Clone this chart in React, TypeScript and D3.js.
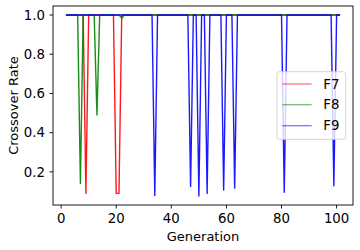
import React from "react";
import * as d3 from "d3";

// Generations 2..101
const generations: number[] = d3.range(2, 102);

const seriesNames = ["F7", "F8", "F9"];
const seriesColors = ["#ff0000", "#008000", "#0000ff"];

const f7: number[] = [
  1, 1, 1, 1, 1, 1, 1, 0.09, 1, 1,
  1, 1, 1, 1, 1, 1, 1, 1, 0.09, 0.09,
  1, 1, 1, 1, 1, 1, 1, 1, 1, 1,
  1, 1, 1, 1, 1, 1, 1, 1, 1, 1,
  1, 1, 1, 1, 1, 1, 1, 1, 1, 1,
  1, 1, 1, 1, 1, 1, 1, 1, 1, 1,
  1, 1, 1, 1, 1, 1, 1, 1, 1, 1,
  1, 1, 1, 1, 1, 1, 1, 1, 1, 1,
  1, 1, 1, 1, 1, 1, 1, 1, 1, 1,
  1, 1, 1, 1, 1, 1, 1, 1, 1, 1,
];

const f8: number[] = [
  1, 1, 1, 1, 1, 0.14, 1, 1, 1, 1,
  1, 0.49, 1, 1, 1, 1, 1, 1, 1, 1,
  0.985, 1, 1, 1, 1, 1, 1, 1, 1, 1,
  1, 1, 1, 1, 1, 1, 1, 1, 1, 1,
  1, 1, 1, 1, 1, 1, 1, 1, 1, 1,
  1, 1, 1, 1, 1, 1, 1, 1, 1, 1,
  1, 1, 1, 1, 1, 1, 1, 1, 1, 1,
  1, 1, 1, 1, 1, 1, 1, 1, 1, 1,
  1, 1, 1, 1, 1, 1, 1, 1, 1, 1,
  1, 1, 1, 1, 1, 1, 1, 1, 1, 1,
];

const f9: number[] = [
  1, 1, 1, 1, 1, 1, 1, 1, 1, 1,
  1, 1, 1, 1, 1, 1, 1, 1, 1, 1,
  1, 1, 1, 1, 1, 1, 1, 1, 1, 1,
  1, 1, 0.08, 1, 1, 1, 1, 1, 1, 1,
  1, 1, 1, 1, 1, 0.125, 1, 1, 0.077, 1,
  1, 0.09, 1, 1, 1, 1, 1, 0.107, 1, 1,
  1, 0.117, 1, 1, 1, 1, 1, 1, 1, 1,
  1, 1, 1, 1, 1, 1, 1, 1, 1, 0.096,
  1, 1, 1, 1, 1, 1, 1, 1, 1, 1,
  1, 1, 1, 1, 1, 1, 1, 0.129, 1, 1,
];

const xTicks = [0, 20, 40, 60, 80, 100];
const yTicks = [0.2, 0.4, 0.6, 0.8, 1.0];

const W = 360;
const H = 250;
const left = 53;
const right = 353;
const top = 6;
const bottom = 205;
const FONT = "'DejaVu Sans', sans-serif";

export default function App() {
  const allSeries = [f7, f8, f9];
  const xExt = d3.extent(generations) as [number, number];
  const xPad = (xExt[1] - xExt[0]) * 0.05;
  const x = d3.scaleLinear().domain([xExt[0] - xPad, xExt[1] + xPad]).range([left, right]);
  const allVals = allSeries.flat();
  const yMin = d3.min(allVals) as number;
  const yMax = d3.max(allVals) as number;
  const yPad = (yMax - yMin) * 0.05;
  const y = d3.scaleLinear().domain([yMin - yPad, yMax + yPad]).range([bottom, top]);

  const line = d3
    .line<number>()
    .x((_, i) => x(generations[i]))
    .y((d) => y(d));

  const legendX = 277;
  const legendY = 71.7;
  const legendW = 68.7;
  const legendH = 67.6;
  const legendRows = [84, 104.7, 125.7].map((v) => v - legendY);

  return (
    <svg
      width={W}
      height={H}
      style={{ position: "absolute", left: 0, top: 0, background: "#fff" }}
      fontFamily={FONT}
    >
      <rect x={0} y={0} width={W} height={H} fill="#fff" />
      <g>
        {allSeries.map((s, k) => (
          <path
            key={seriesNames[k]}
            d={line(s) || ""}
            fill="none"
            stroke={seriesColors[k]}
            strokeWidth={1.4}
            strokeOpacity={0.9}
            strokeLinejoin="round"
            strokeLinecap="square"
          />
        ))}
      </g>
      {/* spines */}
      <rect
        x={left}
        y={top}
        width={right - left}
        height={bottom - top}
        fill="none"
        stroke="#000"
        strokeWidth={0.9}
      />
      {/* x ticks */}
      {xTicks.map((t) => (
        <g key={"x" + t}>
          <line x1={x(t)} x2={x(t)} y1={bottom} y2={bottom + 3.5} stroke="#000" strokeWidth={0.9} />
          <text x={x(t)} y={223} textAnchor="middle" fontSize={13.3} fill="#000">
            {t}
          </text>
        </g>
      ))}
      {/* y ticks */}
      {yTicks.map((t) => (
        <g key={"y" + t}>
          <line x1={left - 3.5} x2={left} y1={y(t)} y2={y(t)} stroke="#000" strokeWidth={0.9} />
          <text x={45} y={y(t)} dy="0.36em" textAnchor="end" fontSize={13.3} fill="#000">
            {d3.format(".1f")(t)}
          </text>
        </g>
      ))}
      <text x={(left + right) / 2} y={240.5} textAnchor="middle" fontSize={13} fill="#000">
        Generation
      </text>
      <text
        transform={`translate(17.5, ${(top + bottom) / 2}) rotate(-90)`}
        textAnchor="middle"
        fontSize={13}
        fill="#000"
      >
        Crossover Rate
      </text>
      {/* legend */}
      <g transform={`translate(${legendX}, ${legendY})`}>
        <rect
          x={0}
          y={0}
          width={legendW}
          height={legendH}
          rx={2.5}
          fill="#fff"
          fillOpacity={0.8}
          stroke="#d0d0d0"
          strokeWidth={0.9}
        />
        {seriesNames.map((n, k) => (
          <g key={n} transform={`translate(0, ${legendRows[k]})`}>
            <line x1={5.3} x2={34.7} y1={0} y2={0} stroke={seriesColors[k]} strokeWidth={1.4} strokeOpacity={0.5} />
            <text x={46.3} y={0} dy="0.36em" fontSize={13.3} fill="#000">
              {n}
            </text>
          </g>
        ))}
      </g>
    </svg>
  );
}
